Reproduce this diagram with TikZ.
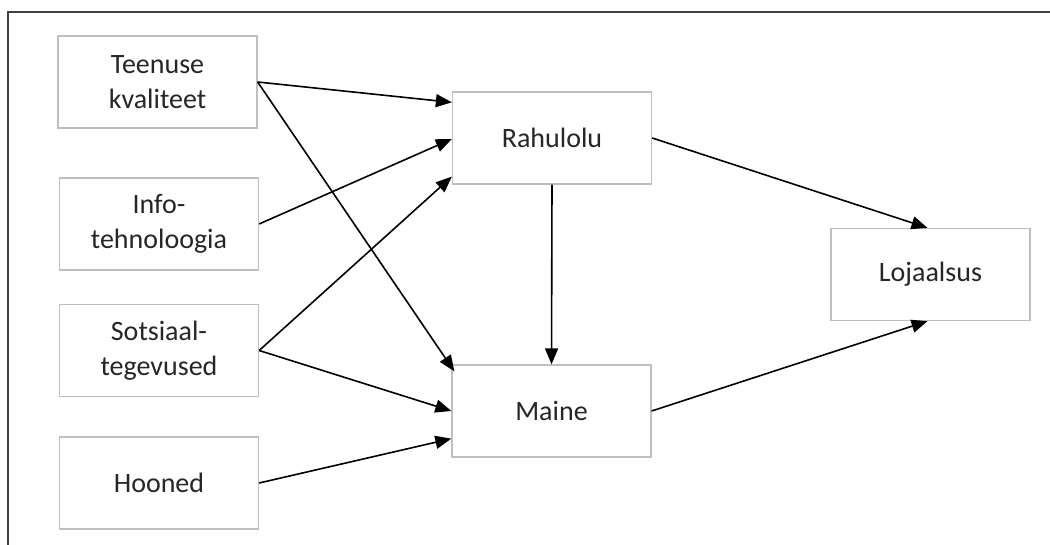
\documentclass[tikz,border=0pt]{standalone}
\usepackage{fontspec}
\setmainfont{Carlito}
\usetikzlibrary{arrows.meta}
\definecolor{boxline}{HTML}{BFBFBF}
\definecolor{frameline}{HTML}{404040}
\definecolor{txt}{HTML}{262626}
\tikzset{
  factor/.style={draw=boxline, line width=1.3bp, fill=white,
    minimum width=199bp, minimum height=92bp, inner sep=0pt,
    align=center, text=txt, font=\fontsize{28bp}{35bp}\selectfont},
  link/.style={line width=1.6bp, draw=black,
    -{Triangle[length=16bp,width=13bp]}},
  frame/.style={line width=2bp, draw=frameline}
}
\begin{document}
\begin{tikzpicture}[x=1bp, y=-1bp]
\useasboundingbox (0,0) rectangle (1050,545);
% outer frame (top and left edges visible)
\coordinate (fbl) at (8,560);
\coordinate (ftl) at (8,12);
\coordinate (ftr) at (1070,12);
\draw[frame] (fbl) -- (ftl) -- (ftr);

% factor boxes
\node[factor] (teen) at (157.5,82)  {Teenuse\\kvaliteet};
\node[factor] (info) at (159,224)   {Info-\\tehnoloogia};
\node[factor] (sots) at (159,350.5) {Sotsiaal-\\tegevused};
\node[factor] (hoon) at (159,483)   {Hooned};
\node[factor] (rah)  at (552,138)   {Rahulolu};
\node[factor] (mai)  at (551.5,411) {Maine};
\node[factor] (loj)  at (930.5,274.5) {Lojaalsus};

% connectors
\draw[link] (teen.east) -- ([yshift=-11bp]rah.north west);
\draw[link] (teen.east) -- ([xshift=3bp,yshift=-7bp]mai.north west);
\draw[link] (info.east) -- ([yshift=-1bp]rah.west);
\draw[link] (sots.east) -- ([yshift=8bp]rah.south west);
\draw[link] (sots.east) -- (mai.west);
\draw[link] (hoon.east) -- ([yshift=19bp]mai.south west);
\draw[link] (rah.south) -- (mai.north);
\draw[link] (rah.east) -- ([xshift=-3bp]loj.north);
\draw[link] (mai.east) -- ([xshift=-3bp]loj.south);
\end{tikzpicture}
\end{document}
